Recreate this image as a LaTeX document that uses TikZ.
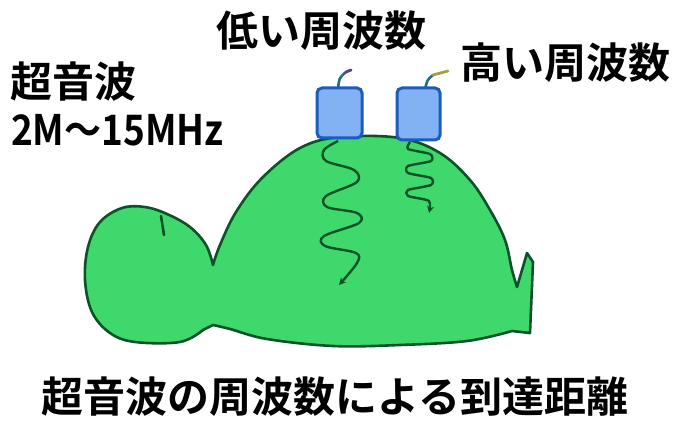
\documentclass[tikz,border=0pt]{standalone}
\usepackage{fontspec}
\setmainfont{Noto Sans CJK JP Bold}
\usetikzlibrary{arrows.meta}
\definecolor{bodygreen}{HTML}{3ED86C}
\definecolor{edgegreen}{HTML}{0C5228}
\definecolor{probefill}{HTML}{82B2F4}
\definecolor{probeedge}{HTML}{1A5CC0}
\definecolor{cableteal}{HTML}{22707A}
\definecolor{cableend}{HTML}{5B3C9C}
\definecolor{cableolive}{HTML}{A89E3E}
\tikzset{
  bodyshape/.style={fill=bodygreen, draw=edgegreen, line width=2.6pt, line join=round},
  probe/.style={fill=probefill, draw=probeedge, line width=3pt, rounded corners=5pt},
  wave/.style={draw=edgegreen, line width=2.4pt, line join=round,
    -{Stealth[length=7pt,width=7pt]}},
  cable/.style={draw=cableteal, line width=2.6pt, line cap=round},
  label/.style={inner sep=0pt, font=\fontsize{42}{42}\selectfont},
}
\begin{document}
\begin{tikzpicture}[x=1pt,y=-1pt]
\useasboundingbox (0,0) rectangle (675,425);

% head, neck and body in one outline
\draw[bodyshape]
  (213,265) -- plot[smooth,tension=0.6] coordinates {(213,265) (206,245) (190,227) (167,214) (145,207) (122,208) (100,222) (88,247) (85,280) (92,312) (110,333) (135,342) (180,342) (203,330)}
  -- (213,325)
  -- plot[smooth,tension=0.6] coordinates {(213,325) (230,329) (267,339) (333,346) (400,345) (467,341) (512,331)}
  -- (530,333) -- (533,262) -- (527,253) -- (517,287)
  -- plot[smooth,tension=0.6] coordinates {(517,287) (512,270) (505,240) (490,210) (470,180) (440,153) (400,138) (340,137) (300,148) (262,178) (236,212) (220,245) (213,265)}
  -- cycle;
% small crease on the head
\draw[draw=edgegreen, line width=2.6pt, line cap=round] (161,216) -- (164,235);

% cables
\draw[cable] (338,90) .. controls (339,78) .. (346,72);
\draw[draw=cableend, line width=2.8pt, line cap=round] (346,72) -- (351,70);
\draw[cable] (425,90) .. controls (427,80) .. (433,75);
\draw[draw=cableolive, line width=2.8pt, line cap=round] (433,75) -- (448,71);

% transducers
\node[probe, minimum width=45pt, minimum height=50pt, inner sep=0pt] (lowprobe) at (339.5,113) {};
\node[probe, minimum width=43pt, minimum height=52pt, inner sep=0pt] (highprobe) at (418.5,114) {};

% low frequency: long wavelength, reaches deep
\draw[wave] plot[smooth,tension=0.55] coordinates {(338,141) (324,150) (326,161) (354,170) (357,182) (326,196) (327,207) (357,213) (359,223) (324,236) (325,246) (356,253) (357,263) (339,285)};
% high frequency: short wavelength, shallow
\draw[wave] plot[smooth,tension=0.4] coordinates {(410,142) (408,149) (430,154) (431,161) (408,166) (408,173) (431,178) (431,185) (408,190) (408,196) (429,201) (429,213)};

% labels
\node[label, anchor=base west] (uswave) at (10,98) {超音波};
\node[label, anchor=base west, xscale=0.88] (range) at (11,146) {2M～15MHz};
\node[label] (lowlabel) at (321,31) {低い周波数};
\node[label] (highlabel) at (565,63) {高い周波数};
\node[label] (title) at (335,397) {超音波の周波数による到達距離};
\end{tikzpicture}
\end{document}
